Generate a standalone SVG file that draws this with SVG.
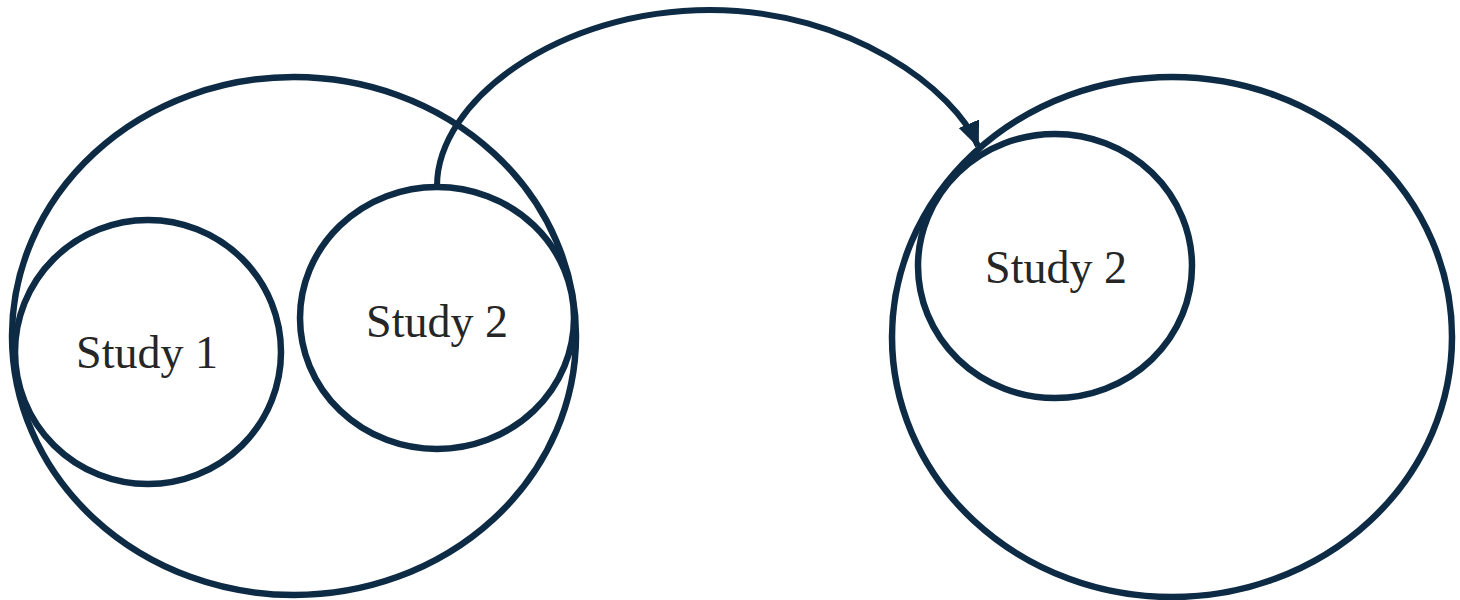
<svg xmlns="http://www.w3.org/2000/svg" width="1460" height="600" viewBox="0 0 1460 600">
  <style>
    .ring { fill: none; stroke: #0d2b45; stroke-width: 6.5; }
    .label { font-family: "Liberation Serif", "DejaVu Serif", serif; font-size: 46px; fill: #262626; text-anchor: middle; }
    .conn { fill: none; stroke: #0d2b45; stroke-width: 6; }
  </style>
  <defs>
    <marker id="arrow" markerUnits="userSpaceOnUse" markerWidth="26" markerHeight="26" viewBox="0 0 26 26" refX="24" refY="13" orient="auto">
      <path d="M0,2 L26,13 L0,24 Z" fill="#0d2b45"/>
    </marker>
  </defs>
  <rect width="1460" height="600" fill="#ffffff"/>
  <g id="group-left">
    <ellipse class="ring" cx="294" cy="336" rx="282" ry="259"/>
  </g>
  <g id="group-right">
    <ellipse class="ring" cx="1172" cy="337" rx="280" ry="260"/>
  </g>
  <g id="study1-left">
    <ellipse class="ring" cx="148" cy="352" rx="133" ry="132"/>
    <text class="label" x="147" y="368">Study 1</text>
  </g>
  <g id="study2-left">
    <ellipse class="ring" cx="437" cy="318" rx="137" ry="131"/>
    <text class="label" x="437" y="337">Study 2</text>
  </g>
  <g id="study2-right">
    <ellipse class="ring" cx="1055" cy="266" rx="137" ry="132"/>
    <text class="label" x="1056" y="283">Study 2</text>
  </g>
  <g id="connectors">
    <path class="conn" d="M437,186 C437,100 560,10 710,10 C850,10 955,90 978,146" marker-end="url(#arrow)"/>
  </g>
</svg>
